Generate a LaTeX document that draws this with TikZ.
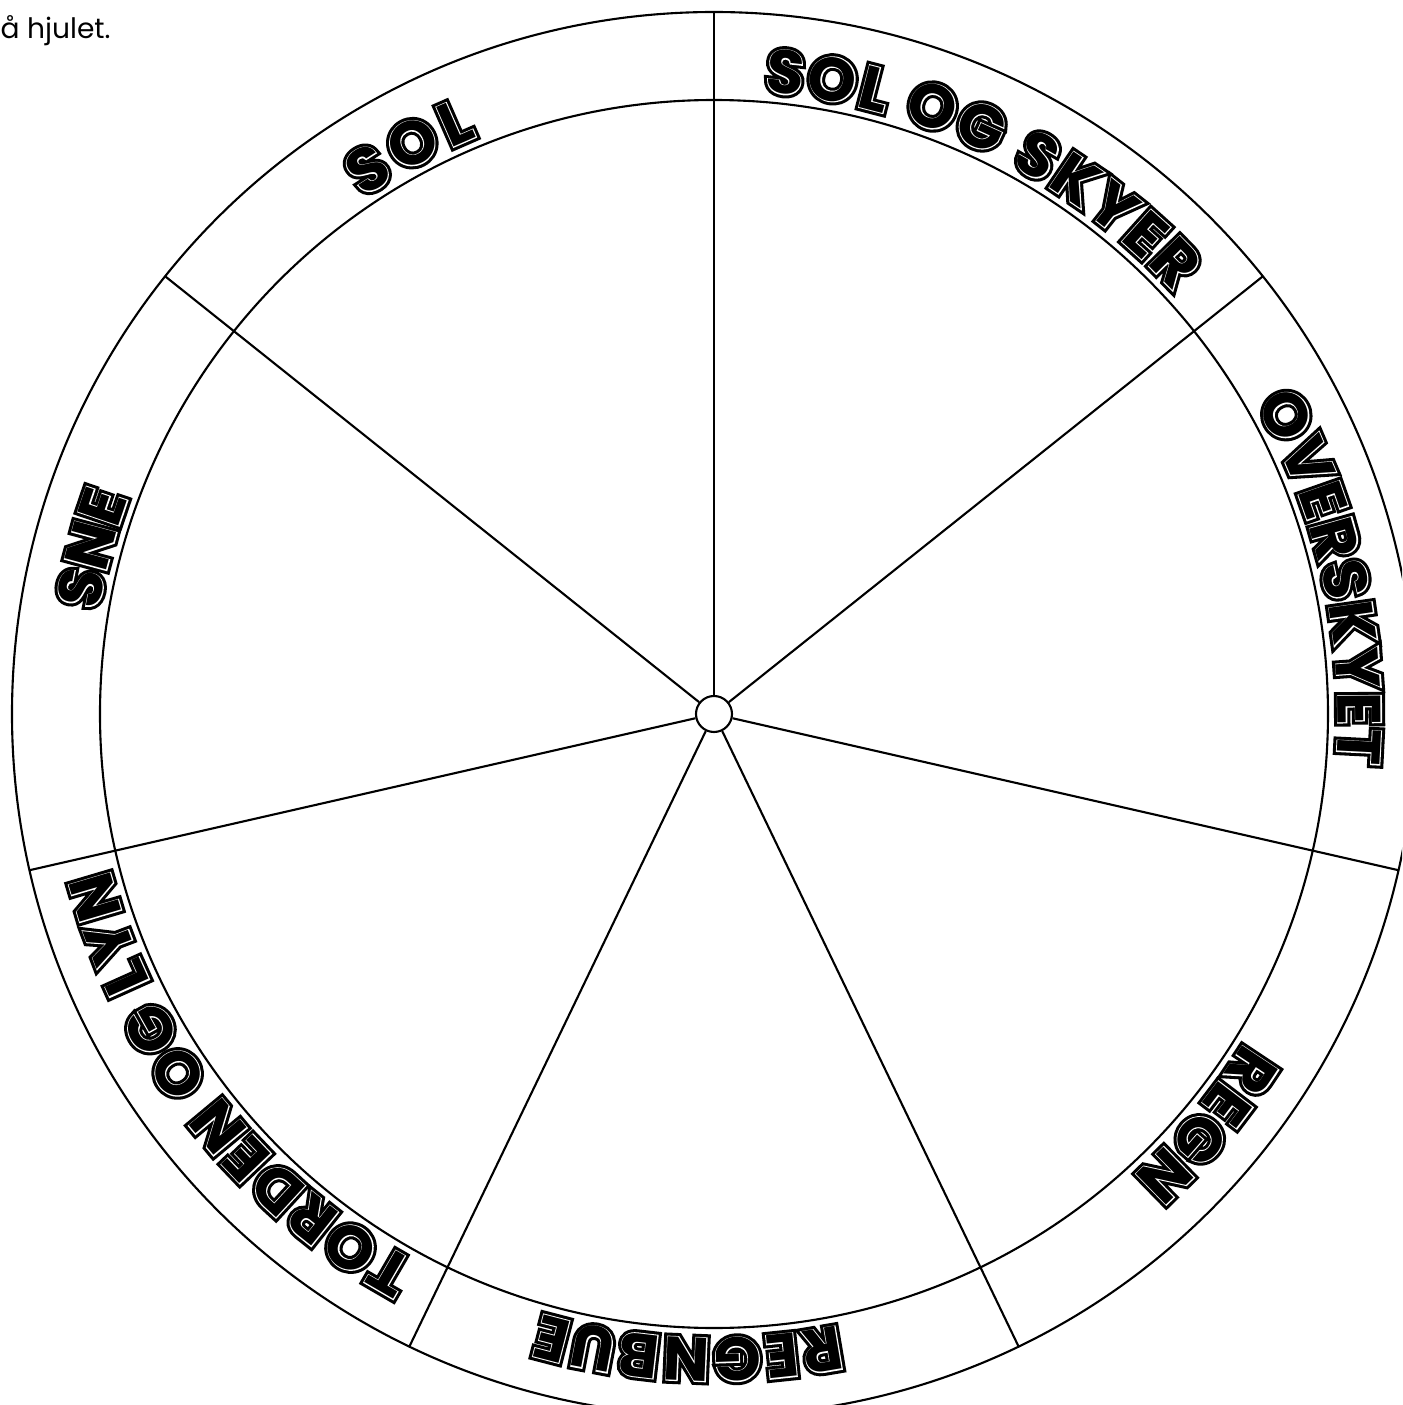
\documentclass[tikz,border=0pt]{standalone}
\usepackage{fontspec}
\setmainfont{Poppins}
% tre strati della scritta: bordo nero, filetto bianco, anima nera
\newfontfamily\lblfat{Poppins}[BoldFeatures={FakeBold=13}]
\newfontfamily\lblmid{Poppins}[BoldFeatures={FakeBold=3}]
\newfontfamily\lblcore{Poppins}
\usetikzlibrary{decorations.text}
\tikzset{
  % linee della ruota
  wline/.style={line width=0.6pt, black},
  % mozzo centrale
  hubnode/.style={circle, draw=black, line width=0.6pt, minimum size=0.36cm, inner sep=0pt},
  % etichetta curva nell'anello (font, colore, testo)
  ringlbl/.style n args={3}{decorate, decoration={text along path, text align=fit to path,
    text={|#1\bfseries\color{#2}\fontsize{17.5}{18}\selectfont|#3}}},
  % nota in alto
  note/.style={font=\fontsize{8}{9}\selectfont, anchor=base west, inner sep=0pt},
}
\def\rlbl{6.24}
% scritta lungo l'arco da #1 a #2 gradi
\newcommand\wheellabel[3]{%
  \foreach \f/\c in {\lblfat/black, \lblmid/white, \lblcore/black}
    \path[ringlbl={\f}{\c}{#3}] (#1:\rlbl) arc[start angle=#1, end angle=#2, radius=\rlbl];
}

\begin{document}
\begin{tikzpicture}
  \useasboundingbox (-7.14,-6.91) rectangle (6.88,7.14);
  \clip (-7.14,-6.91) rectangle (6.88,7.14);
  \def\rout{7.02}
  \def\rin{6.14}
  \node[hubnode] (hub) at (0,0) {};
  \draw[wline] (hub.center) circle[radius=\rout];
  \draw[wline] (hub.center) circle[radius=\rin];
  \foreach \k in {0,...,6} {
    \coordinate (rim\k) at ({90-\k*360/7}:\rout);
    \draw[wline] (hub) -- (rim\k);
  }
  % etichette dei settori
  \wheellabel{124.2}{112.3}{SOL}
  \wheellabel{85.4}{42.5}{SOL OG SKYER}
  \wheellabel{29.8}{-4.6}{OVERSKYET}
  \wheellabel{-31.8}{-47.8}{REGN}
  \wheellabel{-78.5}{-106.1}{REGNBUE}
  \wheellabel{-118.5}{-165.6}{TORDEN OG LYN}
  \wheellabel{170.5}{160.3}{SNE}
  \node[note] (hint) at (-7.14,6.76) {å hjulet.};
\end{tikzpicture}
\end{document}
